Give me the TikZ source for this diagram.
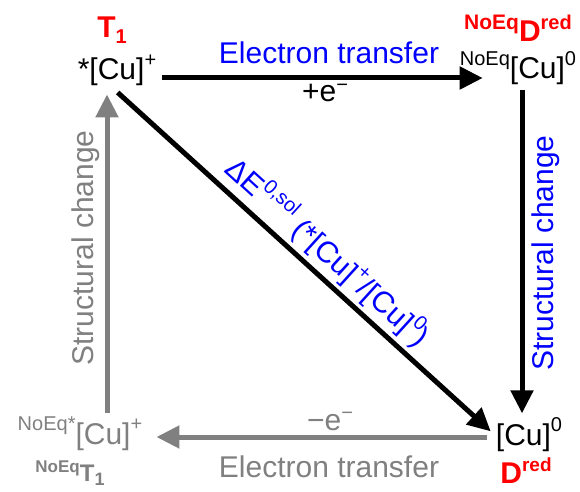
\documentclass[tikz,border=0pt]{standalone}
\usepackage{fontspec}
\setmainfont{Liberation Sans}
\usetikzlibrary{arrows.meta}

\definecolor{cublue}{RGB}{0,0,255}
\definecolor{cured}{RGB}{255,0,0}
\definecolor{cugray}{RGB}{128,128,128}

\newcommand{\hi}[2][0.45em]{\raisebox{#1}{\fontsize{20}{20}\selectfont #2}}
\newcommand{\lo}[2][0.2em]{\raisebox{-#1}{\fontsize{20}{20}\selectfont #2}}

\tikzset{
  species/.style={inner sep=0pt, anchor=base, font=\fontsize{30}{32}\selectfont},
  tag/.style={inner sep=0pt, anchor=base, font=\fontsize{30}{32}\selectfont\bfseries},
  caption/.style={inner sep=0pt, anchor=base, font=\fontsize{30}{32}\selectfont},
  fwd/.style={draw=black, line width=5pt, -{Triangle[length=23pt,width=22pt]}},
  back/.style={draw=cugray, line width=5pt, -{Triangle[length=23pt,width=22pt]}},
}

\begin{document}
\begin{tikzpicture}[x=1pt,y=1pt]
\useasboundingbox (0,0) rectangle (580,491);
% the four species:
\node[species] (T1) at (117,411) {*[Cu]\hi{+}};
\node[species] (Dne) at (518,412) {\hi{NoEq}[Cu]\hi{0}};
\node[species] (Dred) at (529,46) {[Cu]\hi{0}};
\node[species, text=cugray] (T1ne) at (80,47) {\hi{NoEq*}[Cu]\hi{+}};
% their tags:
\node[tag, text=cured] (tagT1) at (112,453) {T\lo{1}};
\node[tag, text=cured] (tagDne) at (518,449) {\hi[0.4em]{\fontsize{21}{21}\selectfont NoEq}D\hi[0.4em]{red}};
\node[tag, text=cured] (tagDred) at (526,8) {D\hi[0.37em]{\fontsize{19}{19}\selectfont red}};
\node[tag, text=cugray, font=\fontsize{24}{26}\selectfont\bfseries] (tagT1ne) at (70,10) {\hi[0.35em]{\fontsize{17}{17}\selectfont NoEq}T\lo[0.2em]{\fontsize{18}{18}\selectfont 1}};
% captions:
\node[caption, text=cublue] (etop) at (329,427) {Electron transfer};
\node[caption] (eplus) at (325,389) {+e\hi[0.35em]{−}};
\node[caption, text=cugray] (eminus) at (330,61) {−e\hi[0.35em]{−}};
\node[caption, text=cugray] (ebot) at (329,14) {Electron transfer};
\node[caption, text=cublue, rotate=90] (sright) at (553,238) {Structural change};
\node[caption, text=cugray, rotate=90] (sleft) at (93,243) {Structural change};
% arrows:
\draw[fwd] ([xshift=6pt,yshift=2pt]T1.base east) -- ([xshift=23pt,yshift=1pt]Dne.base west);
\draw[fwd, shorten <=5pt, shorten >=4pt] ([xshift=4pt]Dne.south) -- ([xshift=-7pt]Dred.north);
\draw[fwd, shorten <=9pt] ([xshift=-6pt]T1.south) -- ([xshift=-5pt,yshift=-14pt]Dred.north west)
  node[pos=0.53, sloped, anchor=south, inner sep=4pt, text=cublue, font=\fontsize{30}{32}\selectfont] (dE)
  {ΔE\hi{0,sol} (*[Cu]\hi{+}/[Cu]\hi{0})};
\draw[back, shorten <=9pt, shorten >=14pt] ([yshift=8pt]Dred.base west) -- ([yshift=7pt]T1ne.base east);
\draw[back, shorten <=4pt, shorten >=8pt] ([xshift=27pt]T1ne.north) -- ([xshift=-10pt]T1.south);
\end{tikzpicture}
\end{document}
